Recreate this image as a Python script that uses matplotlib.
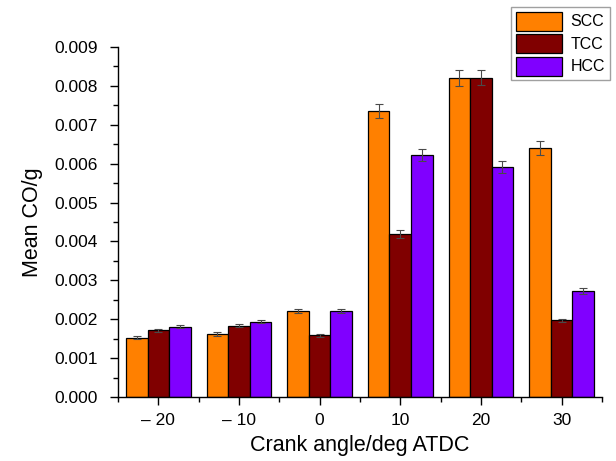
import matplotlib
matplotlib.use("Agg")
import matplotlib.pyplot as plt
import numpy as np
from matplotlib.ticker import MultipleLocator, FixedLocator

plt.rcParams['font.family'] = ['Liberation Sans', 'DejaVu Sans']

categories = ["\u2013 20", "\u2013 10", "0", "10", "20", "30"]
series_names = ["SCC", "TCC", "HCC"]
scc = [0.00152, 0.00162, 0.00222, 0.00735, 0.00820, 0.00640]
tcc = [0.00172, 0.00183, 0.00159, 0.00419, 0.00821, 0.00197]
hcc = [0.00181, 0.00194, 0.00222, 0.00622, 0.00591, 0.00272]
scc_err = [0.00004, 0.00004, 0.00005, 0.00018, 0.00020, 0.00017]
tcc_err = [0.00004, 0.00004, 0.00004, 0.00010, 0.00020, 0.00004]
hcc_err = [0.00004, 0.00004, 0.00005, 0.00015, 0.00015, 0.00008]
colors = ["#FF8000", "#800000", "#8000FF"]

fig = plt.figure(figsize=(6.16, 4.61), dpi=100)
ax = fig.add_axes([0.1916, 0.1388, 0.7854, 0.7593])

x = np.arange(len(categories))
w = 0.267
handles = []
for i, (vals, errs) in enumerate(zip([scc, tcc, hcc], [scc_err, tcc_err, hcc_err])):
    b = ax.bar(x + (i - 1) * w, vals, width=w, color=colors[i], edgecolor="black",
               linewidth=0.9, label=series_names[i], zorder=2)
    ax.errorbar(x + (i - 1) * w, vals, yerr=errs, fmt="none", ecolor="#4a4a4a",
                elinewidth=0.8, capsize=3, capthick=0.8, zorder=3)
    handles.append(b)

ax.set_xlim(-0.5, 5.5)
ax.set_ylim(0, 0.009)
ax.yaxis.set_major_locator(MultipleLocator(0.001))
ax.yaxis.set_minor_locator(MultipleLocator(0.0005))
ax.set_yticklabels([f"{v:.3f}" for v in ax.get_yticks()])
ax.set_xticks(x)
ax.set_xticklabels(categories)
ax.xaxis.set_minor_locator(FixedLocator(np.arange(-0.5, 6.0, 1.0)))

for s in ["top", "right"]:
    ax.spines[s].set_visible(False)
for s in ["left", "bottom"]:
    ax.spines[s].set_linewidth(1.0)

ax.tick_params(axis="both", which="major", direction="out", length=5.5, width=1.0,
               labelsize=12.5)
ax.tick_params(axis="both", which="minor", direction="out", length=3.5, width=1.0)
ax.tick_params(axis="y", which="major", pad=9)
ax.tick_params(axis="x", which="major", pad=6)

ax.set_xlabel("Crank angle/deg ATDC", fontsize=15.5, labelpad=5)
ax.set_ylabel("Mean CO/g", fontsize=15.5, labelpad=8)

leg = fig.legend(handles=handles, labels=series_names, loc="upper right",
                 bbox_to_anchor=(0.990, 0.985), fontsize=11.5, frameon=True,
                 fancybox=False, edgecolor="#888888", handlelength=2.85,
                 handleheight=1.45, handletextpad=0.55, borderpad=0.3,
                 labelspacing=0.22, borderaxespad=0)
leg.get_frame().set_linewidth(1.0)

fig.savefig("out.png", dpi=100)
